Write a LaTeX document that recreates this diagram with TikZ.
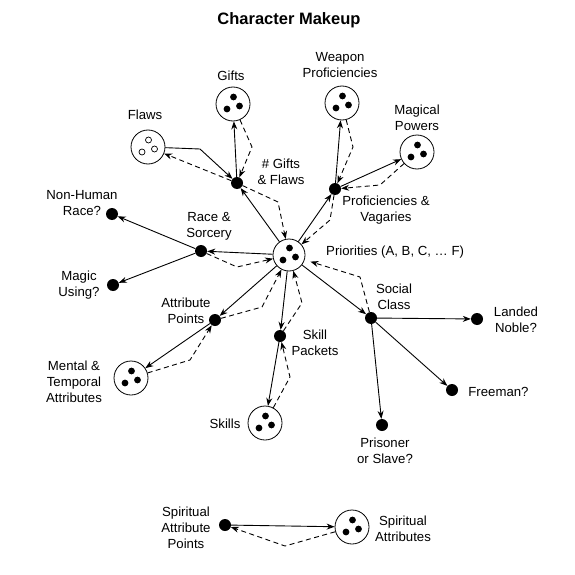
\documentclass[tikz,border=0pt]{standalone}
\usepackage{fontspec}
\setmainfont{Liberation Sans}
\usetikzlibrary{arrows.meta}
\tikzset{
  hubbase/.style={circle,draw,line width=0.8pt,minimum size=34pt,inner sep=0pt,fill=white},
  hub/.style={hubbase,path picture={
     \fill[black] ([shift={(0.5pt,7pt)}]path picture bounding box.center) circle (3.4pt);
     \fill[black] ([shift={(-6pt,-5pt)}]path picture bounding box.center) circle (3.4pt);
     \fill[black] ([shift={(6.5pt,-2pt)}]path picture bounding box.center) circle (3.4pt);}},
  hollowhub/.style={hubbase,path picture={
     \draw[black,line width=0.7pt] ([shift={(0.5pt,7pt)}]path picture bounding box.center) circle (3pt);
     \draw[black,line width=0.7pt] ([shift={(-6pt,-5pt)}]path picture bounding box.center) circle (3pt);
     \draw[black,line width=0.7pt] ([shift={(6.5pt,-2pt)}]path picture bounding box.center) circle (3pt);}},
  blob/.style={circle,fill,minimum size=12pt,inner sep=0pt},
  lab/.style={align=center,inner sep=0pt,font=\fontsize{13.2}{16}\selectfont},
  sarr/.style={line width=0.9pt,-{Stealth[length=8pt,width=6pt]}},
  darr/.style={sarr,dash pattern=on 5pt off 3.5pt}
}
\begin{document}
\begin{tikzpicture}[x=1pt,y=-1pt]
\fill[white] (0,0) rectangle (575,575);
\useasboundingbox (0,0) rectangle (575,575);

% title
\node[inner sep=0pt,font=\fontsize{16.5}{20}\selectfont\bfseries] (title) at (289,20) {Character Makeup};

% hubs
\node[hub,minimum size=32pt] (P) at (289,255) {};
\node[hub] (Gifts) at (233,104) {};
\node[hollowhub] (Flaws) at (148,147) {};
\node[hub] (Weapon) at (342,103) {};
\node[hub] (Magical) at (417,152) {};
\node[hub] (MT) at (131,378) {};
\node[hub] (Skills) at (265,423) {};
\node[hub] (SA) at (352,527) {};

% dots
\node[blob] (GF) at (237,183) {};
\node[blob] (PV) at (335,189) {};
\node[blob] (RS) at (201,251) {};
\node[blob] (NH) at (112,214) {};
\node[blob] (MU) at (113,285) {};
\node[blob] (AP) at (215,320) {};
\node[blob] (SP) at (280,336) {};
\node[blob] (SC) at (371,318) {};
\node[blob] (LN) at (477,319) {};
\node[blob] (FM) at (452,390) {};
\node[blob] (PS) at (382,425) {};
\node[blob] (SAP) at (225,525) {};

% labels
\node[lab] (lGifts) at (231,76) {Gifts};
\node[lab] (lFlaws) at (145,115) {Flaws};
\node[lab] (lGF) at (281,172) {\# Gifts\\\& Flaws};
\node[lab] (lWeapon) at (340,65) {Weapon\\Proficiencies};
\node[lab] (lMagical) at (417,118) {Magical\\Powers};
\node[lab] (lPV) at (386,210) {Proficiencies \&\\Vagaries};
\node[lab,anchor=west] (lP) at (326,252) {Priorities (A, B, C, … F)};
\node[lab] (lRS) at (209,226) {Race \&\\Sorcery};
\node[lab] (lNH) at (82,203.5) {Non-Human\\Race?};
\node[lab] (lMU) at (79,285) {Magic\\Using?};
\node[lab] (lAP) at (186,311) {Attribute\\Points};
\node[lab] (lMT) at (74,382) {Mental \&\\Temporal\\Attributes};
\node[lab] (lSP) at (315,342.5) {Skill\\Packets};
\node[lab] (lSkills) at (225,424) {Skills};
\node[lab] (lSC) at (394,296.5) {Social\\Class};
\node[lab] (lLN) at (516,320) {Landed\\Noble?};
\node[lab] (lFM) at (498.5,392) {Freeman?};
\node[lab] (lPS) at (385,451) {Prisoner\\or Slave?};
\node[lab] (lSAP) at (186,528) {Spiritual\\Attribute\\Points};
\node[lab] (lSA) at (403,529) {Spiritual\\Attributes};

% kink coordinates
\coordinate (k1) at (252,147);
\coordinate (k2) at (200,149);
\coordinate (k3) at (278,202);
\coordinate (k4) at (330,220);
\coordinate (k5) at (353,147);
\coordinate (k6) at (380,185);
\coordinate (k7) at (237,267);
\coordinate (k8) at (262,307);
\coordinate (k9) at (190,360);
\coordinate (k10) at (302,303);
\coordinate (k11) at (290,377);
\coordinate (k12) at (360,277);
\coordinate (k13) at (285,546);

% connectors
\draw[sarr] (GF) -- (Gifts);
\draw[darr] (Gifts) -- (k1) -- (GF);
\draw[sarr] (Flaws) -- (k2) -- (GF);
\draw[darr] (GF) -- (Flaws);
\draw[sarr] (P) -- (GF);
\draw[darr] (GF) -- (k3) -- (P);
\draw[sarr] (P) -- (PV);
\draw[darr] (PV) -- (k4) -- (P);
\draw[sarr] (PV) -- (Weapon);
\draw[darr] (Weapon) -- (k5) -- (PV);
\draw[sarr] (PV) -- (Magical);
\draw[darr] (Magical) -- (k6) -- (PV);
\draw[sarr] (P) -- (RS);
\draw[darr] (RS) -- (k7) -- (P);
\draw[sarr] (RS) -- (NH);
\draw[sarr] (RS) -- (MU);
\draw[sarr] (P) -- (AP);
\draw[darr] (AP) -- (k8) -- (P);
\draw[sarr] (AP) -- (MT);
\draw[darr] (MT) -- (k9) -- (AP);
\draw[sarr] (P) -- (SP);
\draw[darr] (SP) -- (k10) -- (P);
\draw[sarr] (SP) -- (Skills);
\draw[darr] (Skills) -- (k11) -- (SP);
\draw[sarr] (P) -- (SC);
\draw[darr,shorten >=6pt] (SC) -- (k12) -- (P);
\draw[sarr] (SC) -- (LN);
\draw[sarr] (SC) -- (FM);
\draw[sarr] (SC) -- (PS);
\draw[sarr] (SAP) -- (SA);
\draw[darr] (SA) -- (k13) -- (SAP);
\end{tikzpicture}
\end{document}
